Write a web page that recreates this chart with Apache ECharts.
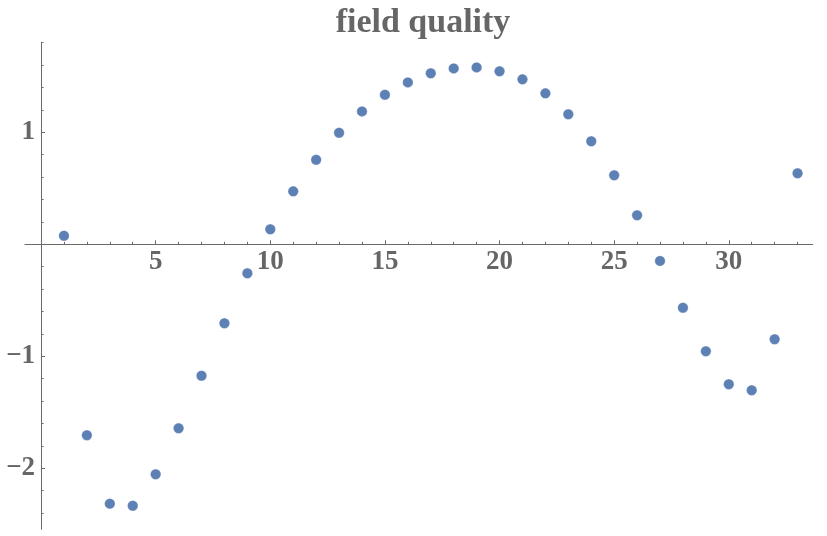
<!DOCTYPE html>
<html>
<head>
<meta charset="utf-8">
<script src="https://cdn.jsdelivr.net/npm/echarts@6/dist/echarts.min.js"></script>
<style>
  html, body { margin: 0; padding: 0; background: #fff; }
  #chart { width: 827px; height: 536px; }
</style>
</head>
<body>
<div id="chart"></div>
<script>
// ---- data ----
var titleText = 'field quality';
var xValues = [1, 2, 3, 4, 5, 6, 7, 8, 9, 10, 11, 12, 13, 14, 15, 16, 17, 18, 19, 20, 21, 22, 23, 24, 25, 26, 27, 28, 29, 30, 31, 32, 33];
var yValues = [0.077, -1.705, -2.316, -2.334, -2.054, -1.643, -1.173, -0.705, -0.259, 0.134,
               0.473, 0.755, 0.996, 1.187, 1.336, 1.446, 1.527, 1.571, 1.580, 1.545,
               1.473, 1.348, 1.161, 0.920, 0.616, 0.259, -0.148, -0.566, -0.955, -1.250,
               -1.304, -0.848, 0.634];
var xMajorTicks = [5, 10, 15, 20, 25, 30];
var xMinorTicks = [1, 2, 3, 4, 6, 7, 8, 9, 11, 12, 13, 14, 16, 17, 18, 19, 21, 22, 23, 24, 26, 27, 28, 29, 31, 32, 33];
var yMajorTicks = [-2, -1, 1];
var yMinorTicks = [-2.4, -2.2, -1.8, -1.6, -1.4, -1.2, -0.8, -0.6, -0.4, -0.2, 0.2, 0.4, 0.6, 0.8, 1.2, 1.4, 1.6, 1.8];

var points = xValues.map(function (x, i) { return [x, yValues[i]]; });

var axisColor = '#6a6a6a';
var labelFont = {
  fontFamily: 'Liberation Serif',
  fontWeight: 'bold',
  fontSize: 27,
  color: '#666666'
};
function fmt(v) { return String(v).replace('-', '\u2212'); }

var W = 827, H = 536;
var G = { left: 25, right: 14.3, top: 42.3, bottom: 6.7 };
var X_MIN = -0.7, X_MAX = 33.66, Y_MIN = -2.545, Y_MAX = 1.804;
var gridW = W - G.left - G.right, gridH = H - G.top - G.bottom;
// axes cross at the origin: shift axis lines from grid edges to the zero position
var xAxisOffset = -((0 - Y_MIN) / (Y_MAX - Y_MIN)) * gridH;
var yAxisOffset = -((0 - X_MIN) / (X_MAX - X_MIN)) * gridW;

var chart = echarts.init(document.getElementById('chart'), null, { renderer: 'canvas' });
chart.setOption({
  animation: false,
  backgroundColor: '#ffffff',
  title: {
    text: titleText,
    left: 418,
    textAlign: 'center',
    top: 1,
    textStyle: {
      fontFamily: 'Liberation Serif',
      fontWeight: 'bold',
      fontSize: 34,
      color: '#666666'
    }
  },
  grid: {
    left: G.left, right: G.right, top: G.top, bottom: G.bottom,
    containLabel: false,
    outerBoundsMode: 'none'
  },
  xAxis: [
    {
      type: 'value', min: X_MIN, max: X_MAX, position: 'bottom', offset: xAxisOffset,
      axisLine: { show: true, onZero: false, lineStyle: { color: axisColor, width: 1 } },
      axisTick: { show: true, inside: true, length: 4, customValues: xMajorTicks, lineStyle: { color: axisColor } },
      axisLabel: Object.assign({ show: true, customValues: xMajorTicks, margin: 4, formatter: fmt, hideOverlap: false }, labelFont),
      splitLine: { show: false }
    },
    {
      type: 'value', min: X_MIN, max: X_MAX, position: 'bottom', offset: xAxisOffset,
      axisLine: { show: false, onZero: false },
      axisTick: { show: true, inside: true, length: 2.5, customValues: xMinorTicks, lineStyle: { color: axisColor } },
      axisLabel: { show: false },
      splitLine: { show: false }
    }
  ],
  yAxis: [
    {
      type: 'value', min: Y_MIN, max: Y_MAX, position: 'left', offset: yAxisOffset,
      axisLine: { show: true, onZero: false, lineStyle: { color: axisColor, width: 1 } },
      axisTick: { show: true, inside: true, length: 4, customValues: yMajorTicks, lineStyle: { color: axisColor } },
      axisLabel: Object.assign({ show: true, customValues: yMajorTicks, margin: 6, formatter: fmt, hideOverlap: false }, labelFont),
      splitLine: { show: false }
    },
    {
      type: 'value', min: Y_MIN, max: Y_MAX, position: 'left', offset: yAxisOffset,
      axisLine: { show: false, onZero: false },
      axisTick: { show: true, inside: true, length: 2.5, customValues: yMinorTicks, lineStyle: { color: axisColor } },
      axisLabel: { show: false },
      splitLine: { show: false }
    }
  ],
  series: [{
    type: 'scatter',
    xAxisIndex: 0,
    yAxisIndex: 0,
    data: points,
    symbol: 'circle',
    symbolSize: 10.5,
    itemStyle: { color: '#5E81B5', opacity: 1, borderColor: 'rgba(255,255,255,0.35)', borderWidth: 0.8 },
    silent: true
  }]
});
</script>
</body>
</html>
